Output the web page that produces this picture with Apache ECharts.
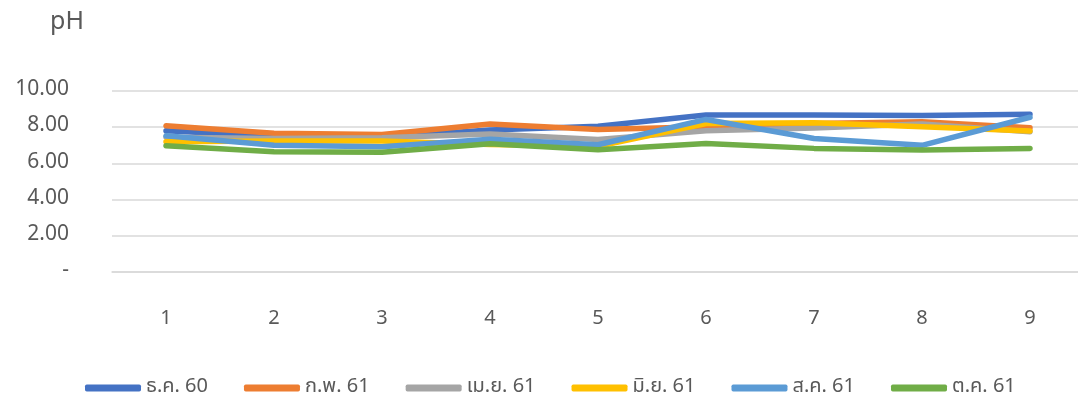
<!DOCTYPE html>
<html>
<head>
<meta charset="utf-8">
<script src="https://cdn.jsdelivr.net/npm/echarts@6/dist/echarts.min.js"></script>
<style>
  html, body { margin: 0; padding: 0; background: #fff; overflow: hidden; }
  #chart { width: 1084px; height: 401px; }
</style>
</head>
<body>
<div id="chart"></div>
<script>
// ข้อมูล
const categories = ['1', '2', '3', '4', '5', '6', '7', '8', '9'];
const seriesNames = ['ธ.ค. 60', 'ก.พ. 61', 'เม.ย. 61', 'มิ.ย. 61', 'ส.ค. 61', 'ต.ค. 61'];
const dec60 = [7.80, 7.50, 7.45, 7.85, 8.05, 8.67, 8.67, 8.64, 8.71];
const feb61 = [8.08, 7.66, 7.60, 8.18, 7.87, 8.03, 8.20, 8.30, 7.97];
const apr61 = [7.45, 7.38, 7.42, 7.62, 7.32, 7.80, 7.95, 8.18, 7.75];
const jun61 = [7.20, 7.24, 7.24, 7.05, 6.95, 8.20, 8.25, 8.03, 7.79];
const aug61 = [7.53, 7.00, 6.92, 7.33, 7.03, 8.43, 7.38, 7.00, 8.55];
const oct61 = [6.98, 6.65, 6.61, 7.08, 6.76, 7.10, 6.83, 6.74, 6.83];
const yTicks = [0, 2, 4, 6, 8, 10];
const colors = ['#4472C4', '#ED7D31', '#A5A5A5', '#FFC000', '#5B9BD5', '#70AD47'];

const font = "'Noto Sans Thai', 'DejaVu Sans', 'Noto Sans', sans-serif";
const allData = [dec60, feb61, apr61, jun61, aug61, oct61];

// กราฟกว้างกว่าหน้าต่างเล็กน้อย เส้นกริดจึงเลยขอบขวาออกไปเหมือนต้นฉบับ
const chart = echarts.init(document.getElementById('chart'));
chart.setOption({
  animation: false,
  color: colors,
  textStyle: { fontFamily: font },
  title: {
    text: 'pH',
    left: 45, top: 6,
    textStyle: { fontSize: 25, fontWeight: 'normal', color: '#595959', fontFamily: font }
  },
  legend: {
    data: seriesNames,
    bottom: -2,
    left: 80,
    itemWidth: 56,
    itemHeight: 7,
    itemGap: 36,
    icon: 'roundRect',
    textStyle: { fontSize: 20, color: '#595959', fontFamily: font }
  },
  grid: { left: 112, right: 0, top: 91, bottom: 129 },
  xAxis: {
    type: 'category',
    data: categories,
    boundaryGap: true,
    axisLine: { lineStyle: { color: '#d9d9d9', width: 1.5 } },
    axisTick: { show: false },
    axisLabel: { margin: 38, fontSize: 20, color: '#595959', fontFamily: font }
  },
  yAxis: {
    type: 'value',
    min: yTicks[0],
    max: yTicks[yTicks.length - 1],
    interval: 2,
    axisLine: { show: false },
    axisTick: { show: false },
    splitLine: { lineStyle: { color: '#d9d9d9', width: 1.5 } },
    axisLabel: {
      margin: 43,
      fontSize: 21,
      color: '#595959',
      fontFamily: font,
      formatter: v => v === 0 ? '-' : v.toFixed(2)
    }
  },
  series: seriesNames.map((name, i) => ({
    name: name,
    type: 'line',
    data: allData[i],
    symbol: 'none',
    lineStyle: { width: 5.5, cap: 'round', join: 'round' }
  }))
});
</script>
</body>
</html>
